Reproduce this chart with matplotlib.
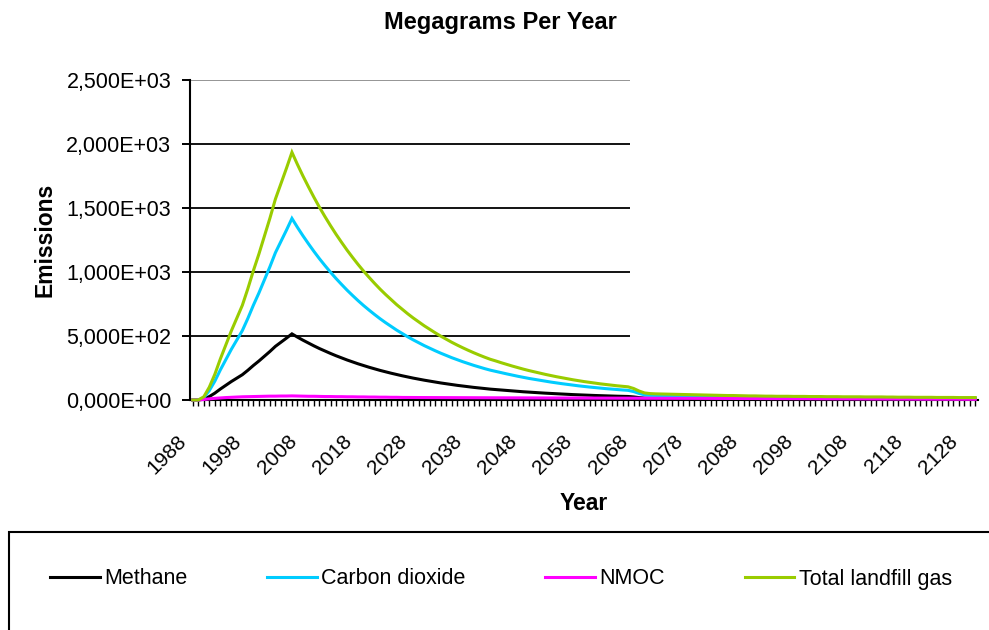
import matplotlib
matplotlib.use("Agg")
import matplotlib.pyplot as plt
from matplotlib.patches import Rectangle
from matplotlib.ticker import FixedLocator, MultipleLocator
from matplotlib.transforms import ScaledTranslation

plt.rcParams['font.family'] = ['Liberation Sans', 'DejaVu Sans']

# ---------------- data ----------------
years = list(range(1988, 2131))

total = [
    0, 0, 25, 100, 200, 320, 430, 540, 640, 740, 870, 1010,
    1140, 1280, 1420, 1570, 1690, 1810, 1935, 1840, 1750, 1665,
    1583, 1505, 1432, 1362, 1295, 1232, 1171, 1114, 1059, 1007,
    958, 911, 866, 824, 784, 745, 709, 674, 641, 610,
    580, 552, 525, 499, 475, 451, 429, 408, 388, 369,
    351, 334, 318, 305, 291, 278, 265, 253, 241, 230,
    220, 210, 200, 191, 182, 174, 166, 158, 151, 144,
    138, 132, 126, 121, 116, 111, 107, 103, 90, 70,
    55, 50, 48, 47, 46, 45, 44, 43, 42, 41,
    40, 39, 38, 37, 36, 35, 35, 34, 33, 32,
    32, 31, 30, 30, 29, 29, 29, 28, 28, 28,
    27, 27, 27, 26, 26, 26, 25, 25, 25, 25,
    24, 24, 24, 24, 23, 23, 22, 22, 22, 21,
    21, 21, 21, 20, 20, 20, 20, 19, 19, 19, 19,
]

methane = [
    0, 0, 6.7, 26.7, 53.4, 85.4, 114.8, 144.2, 170.9, 197.6, 232.3, 269.7,
    304.4, 341.8, 379.1, 419.2, 451.2, 483.3, 516.6, 491.3, 467.3, 444.6,
    422.7, 401.8, 382.3, 363.7, 345.8, 328.9, 312.7, 297.4, 282.8, 268.9,
    255.8, 243.2, 231.2, 220.0, 209.3, 198.9, 189.3, 180.0, 171.1, 162.9,
    154.9, 147.4, 140.2, 133.2, 126.8, 120.4, 114.5, 108.9, 103.6, 98.5,
    93.7, 89.2, 84.9, 81.4, 77.7, 74.2, 70.8, 67.6, 64.3, 61.4,
    58.7, 56.1, 53.4, 51.0, 48.6, 46.5, 44.3, 42.2, 40.3, 38.4,
    36.8, 35.2, 33.6, 32.3, 31.0, 29.6, 28.6, 27.5, 24.0, 18.7,
    14.7, 13.4, 12.8, 12.5, 12.3, 12.0, 11.7, 11.5, 11.2, 10.9,
    10.7, 10.4, 10.1, 9.9, 9.6, 9.3, 9.3, 9.1, 8.8, 8.5,
    8.5, 8.3, 8.0, 8.0, 7.7, 7.7, 7.7, 7.5, 7.5, 7.5,
    7.2, 7.2, 7.2, 6.9, 6.9, 6.9, 6.7, 6.7, 6.7, 6.7,
    6.4, 6.4, 6.4, 6.4, 6.1, 6.1, 5.9, 5.9, 5.9, 5.6,
    5.6, 5.6, 5.6, 5.3, 5.3, 5.3, 5.3, 5.1, 5.1, 5.1, 5.1,
]

carbon_dioxide = [
    0, 0, 18.3, 73.3, 146.6, 234.6, 315.2, 395.8, 469.1, 542.4, 637.7, 740.3,
    835.6, 938.2, 1040.9, 1150.8, 1238.8, 1326.7, 1418.4, 1348.7, 1282.8, 1220.4,
    1160.3, 1103.2, 1049.7, 998.3, 949.2, 903.1, 858.3, 816.6, 776.2, 738.1,
    702.2, 667.8, 634.8, 604.0, 574.7, 546.1, 519.7, 494.0, 469.9, 447.1,
    425.1, 404.6, 384.8, 365.8, 348.2, 330.6, 314.5, 299.1, 284.4, 270.5,
    257.3, 244.8, 233.1, 223.6, 213.3, 203.8, 194.2, 185.4, 176.7, 168.6,
    161.3, 153.9, 146.6, 140.0, 133.4, 127.5, 121.7, 115.8, 110.7, 105.6,
    101.2, 96.8, 92.4, 88.7, 85.0, 81.4, 78.4, 75.5, 66.0, 51.3,
    40.3, 36.7, 35.2, 34.5, 33.7, 33.0, 32.3, 31.5, 30.8, 30.1,
    29.3, 28.6, 27.9, 27.1, 26.4, 25.7, 25.7, 24.9, 24.2, 23.5,
    23.5, 22.7, 22.0, 22.0, 21.3, 21.3, 21.3, 20.5, 20.5, 20.5,
    19.8, 19.8, 19.8, 19.1, 19.1, 19.1, 18.3, 18.3, 18.3, 18.3,
    17.6, 17.6, 17.6, 17.6, 16.9, 16.9, 16.1, 16.1, 16.1, 15.4,
    15.4, 15.4, 15.4, 14.7, 14.7, 14.7, 14.7, 13.9, 13.9, 13.9, 13.9,
]

nmoc = [
    0, 0, 4, 9, 13, 16, 19, 21, 23, 25, 26, 27,
    28, 29, 30, 30, 31, 31, 32, 31, 30, 29,
    29, 28, 27, 27, 26, 26, 25, 25, 24, 24,
    23, 23, 22, 22, 21, 21, 20, 20, 19.5, 19.3,
    19.1, 18.9, 18.7, 18.5, 18.3, 18.1, 17.9, 17.7, 17.5, 17.4,
    17.3, 17.2, 17.1, 17.0, 16.9, 16.8, 16.7, 16.6, 16.5, 16.4,
    16.3, 16.2, 16.1, 16.0, 15.9, 15.8, 15.7, 15.6, 15.5, 15.4,
    15.3, 15.2, 15.1, 15.0, 14.9, 14.8, 14.7, 14.6, 14.4, 14.2,
    14.0, 13.8, 13.6, 13.4, 13.2, 13.0, 12.9, 12.8, 12.7, 12.6,
    12.5, 12.4, 12.3, 12.2, 12.1, 12.0, 11.9, 11.8, 11.7, 11.6,
    11.5, 11.4, 11.3, 11.2, 11.0, 10.8, 10.6, 10.4, 10.2, 10.0,
    9.8, 9.6, 9.4, 9.2, 9.0, 8.8, 8.6, 8.4, 8.2, 8.0,
    7.8, 7.6, 7.4, 7.2, 7.0, 6.9, 6.8, 6.7, 6.6, 6.5,
    6.4, 6.3, 6.2, 6.1, 6.0, 5.9, 5.8, 5.7, 5.6, 5.5, 5.4,
]

series_names = ["Methane", "Carbon dioxide", "NMOC", "Total landfill gas"]
series_colors = ["#000000", "#00CCFF", "#FF00FF", "#99CC00"]

x_tick_labels = ["1988", "1998", "2008", "2018", "2028", "2038", "2048", "2058",
                 "2068", "2078", "2088", "2098", "2108", "2118", "2128"]
y_ticks = [0, 500, 1000, 1500, 2000, 2500]
y_tick_labels = ["0,000E+00", "5,000E+02", "1,000E+03", "1,500E+03",
                 "2,000E+03", "2,500E+03"]

title = "Megagrams Per Year"
x_label = "Year"
y_label = "Emissions"

# ---------------- layout ----------------
W, H = 989, 630
fig = plt.figure(figsize=(W / 100, H / 100), dpi=100)
fig.patch.set_facecolor("white")

L, R, B, T = 190, 978, 400, 80
ax = fig.add_axes([L / W, 1 - B / H, (R - L) / W, (B - T) / H])
ax.set_facecolor("none")

idx = list(range(len(years)))
all_series = [methane, carbon_dioxide, nmoc, total]
lines = []
for k, (vals, name, col) in enumerate(zip(all_series, series_names, series_colors)):
    ln, = ax.plot(idx, vals, color=col, lw=2.2, label=name, zorder=3 + k,
                  clip_on=False, solid_joinstyle="miter")
    lines.append(ln)

ax.set_xlim(-0.5, len(years) - 0.5)
ax.set_ylim(0, 2500)

# gridlines (the chart area's right part is blank past ~2067)
grid_end = 79.4
for yv in y_ticks[1:]:
    col = "#8c8c8c" if yv == y_ticks[-1] else "black"
    ax.hlines(yv, -0.5, grid_end, colors=col, lw=1.3, zorder=1)

for s in ["top", "right"]:
    ax.spines[s].set_visible(False)
ax.spines["left"].set_linewidth(1.5)
ax.spines["bottom"].set_linewidth(1.5)
ax.spines["left"].set_zorder(2)
ax.spines["bottom"].set_zorder(2)

ax.set_yticks(y_ticks)
ax.set_yticklabels(y_tick_labels)
ax.tick_params(axis="y", direction="out", length=5.5, width=1.4, pad=8,
               labelsize=15.5, colors="black")

label_pos = [years.index(int(t)) for t in x_tick_labels]
ax.xaxis.set_major_locator(FixedLocator(label_pos))
ax.xaxis.set_minor_locator(MultipleLocator(1))
ax.set_xticklabels(x_tick_labels, rotation=45, ha="right",
                   rotation_mode="anchor", va="center")
ax.tick_params(axis="x", which="both", direction="out", length=4.3, width=1.0,
               colors="black")
ax.tick_params(axis="x", which="major", pad=23, labelsize=15)
shift = ScaledTranslation(-9 / 100, 0, fig.dpi_scale_trans)
for lab in ax.get_xticklabels():
    lab.set_transform(lab.get_transform() + shift)

ax.set_xlabel(x_label, fontsize=16.5, fontweight="bold")
ax.xaxis.set_label_coords(0.5, -0.325)
ax.xaxis.label.set_va("center")
ax.set_ylabel(y_label, fontsize=16.5, fontweight="bold")
ax.yaxis.set_label_coords(-0.184, 0.5)
ax.yaxis.label.set_va("center")

fig.text(500 / W, 1 - 29 / H, title, ha="center", va="baseline",
         fontsize=17, fontweight="bold")

# legend frame (extends past the figure edges)
fig.patches.append(Rectangle((9 / W, -0.2), 1.2, (630 - 532) / H + 0.2,
                             transform=fig.transFigure, fill=False,
                             edgecolor="black", lw=1.5))
leg = fig.legend(handles=lines, labels=series_names, ncol=4, frameon=False,
                 loc="center left", bbox_to_anchor=(50 / W, 1 - 579 / H),
                 fontsize=15.5, handlelength=2.3, handletextpad=0.2,
                 columnspacing=3.72, borderpad=0, borderaxespad=0)

fig.savefig("out.png", dpi=100)
